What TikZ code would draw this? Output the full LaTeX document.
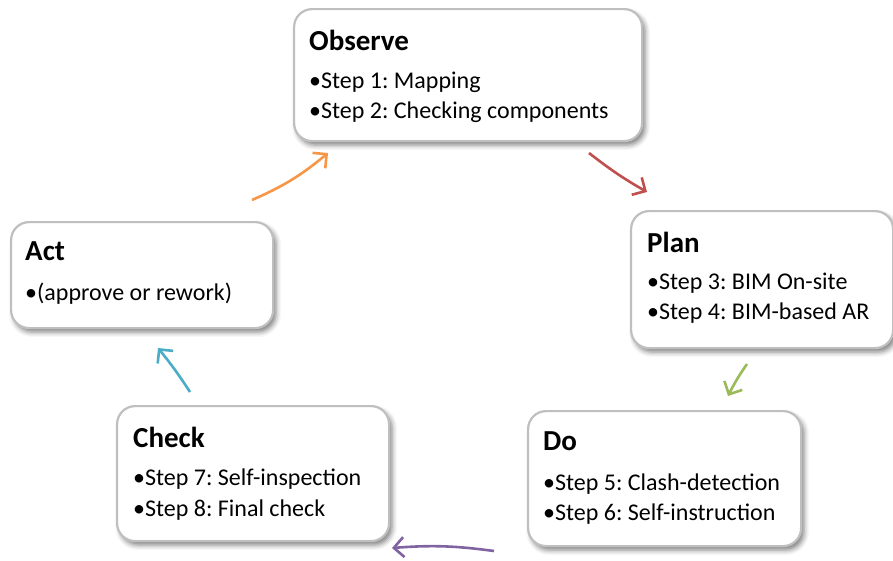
\documentclass[tikz,border=0pt]{standalone}
\usepackage{fontspec}
\setmainfont{Carlito}
\frenchspacing
\usetikzlibrary{arrows.meta,shadows.blur}
\definecolor{boxline}{RGB}{191,191,191}
\definecolor{obsorange}{RGB}{247,150,70}
\definecolor{planred}{RGB}{192,80,77}
\definecolor{dogreen}{RGB}{155,187,89}
\definecolor{checkpurple}{RGB}{128,100,162}
\definecolor{actcyan}{RGB}{75,172,198}

\begin{document}
\begin{tikzpicture}[x=1pt, y=-1pt,
  stage/.style={draw=boxline, line width=2.2pt, fill=white, rounded corners=18pt,
    anchor=north west, inner sep=0pt,
    blur shadow={shadow xshift=3pt, shadow yshift=-4pt, shadow blur radius=5pt, shadow opacity=50}},
  head/.style={anchor=base west, inner sep=0pt, font=\fontsize{29}{34}\selectfont\bfseries},
  item/.style={anchor=base west, inner sep=0pt, font=\fontsize{24}{29}\selectfont},
  turn/.style={line width=2.6pt, -{Straight Barb[length=10pt,width=20pt]}}]
  \useasboundingbox (0,0) rectangle (893,560);

  % the five stages of the cycle
  \node[stage, minimum width=348, minimum height=132] (obs) at (293,8) {};
  \node[stage, minimum width=262, minimum height=137] (plan) at (630,210) {};
  \node[stage, minimum width=273, minimum height=135] (do) at (527,410) {};
  \node[stage, minimum width=272, minimum height=135] (check) at (116,405) {};
  \node[stage, minimum width=262, minimum height=106] (act) at (10,221) {};

  % titles and steps
  \node[head] (obs-t) at ([shift={(16,42)}]obs.north west) {Observe};
  \node[item] (obs-1) at ([shift={(16,80)}]obs.north west) {•Step 1: Mapping};
  \node[item] (obs-2) at ([shift={(16,110)}]obs.north west) {•Step 2: Checking components};

  \node[head] (plan-t) at ([shift={(17,42)}]plan.north west) {Plan};
  \node[item] (plan-1) at ([shift={(17,79)}]plan.north west) {•Step 3: BIM On-site};
  \node[item] (plan-2) at ([shift={(17,109)}]plan.north west) {•Step 4: BIM-based AR};

  \node[head] (do-t) at ([shift={(16,40)}]do.north west) {Do};
  \node[item] (do-1) at ([shift={(16,80)}]do.north west) {•Step 5: Clash-detection};
  \node[item] (do-2) at ([shift={(16,110)}]do.north west) {•Step 6: Self-instruction};

  \node[head] (check-t) at ([shift={(17,42)}]check.north west) {Check};
  \node[item] (check-1) at ([shift={(17,80)}]check.north west) {•Step 7: Self-inspection};
  \node[item] (check-2) at ([shift={(17,111)}]check.north west) {•Step 8: Final check};

  \node[head] (act-t) at ([shift={(15,39)}]act.north west) {Act};
  \node[item] (act-1) at ([shift={(15,79)}]act.north west) {•(approve or rework)};

  % arrows between the stages
  \coordinate (a-out) at (252,200);  \coordinate (o-in) at (328,153);
  \coordinate (o-out) at (589,153);  \coordinate (p-in) at (647,192);
  \coordinate (p-out) at (747,364);  \coordinate (d-in) at (728,396);
  \coordinate (d-out) at (494,551);  \coordinate (c-in) at (392,548);
  \coordinate (c-out) at (190,392);  \coordinate (a-in) at (158,348);

  \draw[turn, obsorange] (a-out) to[bend right=8] (o-in);
  \draw[turn, planred] (o-out) to[bend right=4] (p-in);
  \draw[turn, dogreen] (p-out) to[bend right=4] (d-in);
  \draw[turn, checkpurple] (d-out) to[bend right=6] (c-in);
  \draw[turn, actcyan] (c-out) to[bend right=3] (a-in);
\end{tikzpicture}
\end{document}
